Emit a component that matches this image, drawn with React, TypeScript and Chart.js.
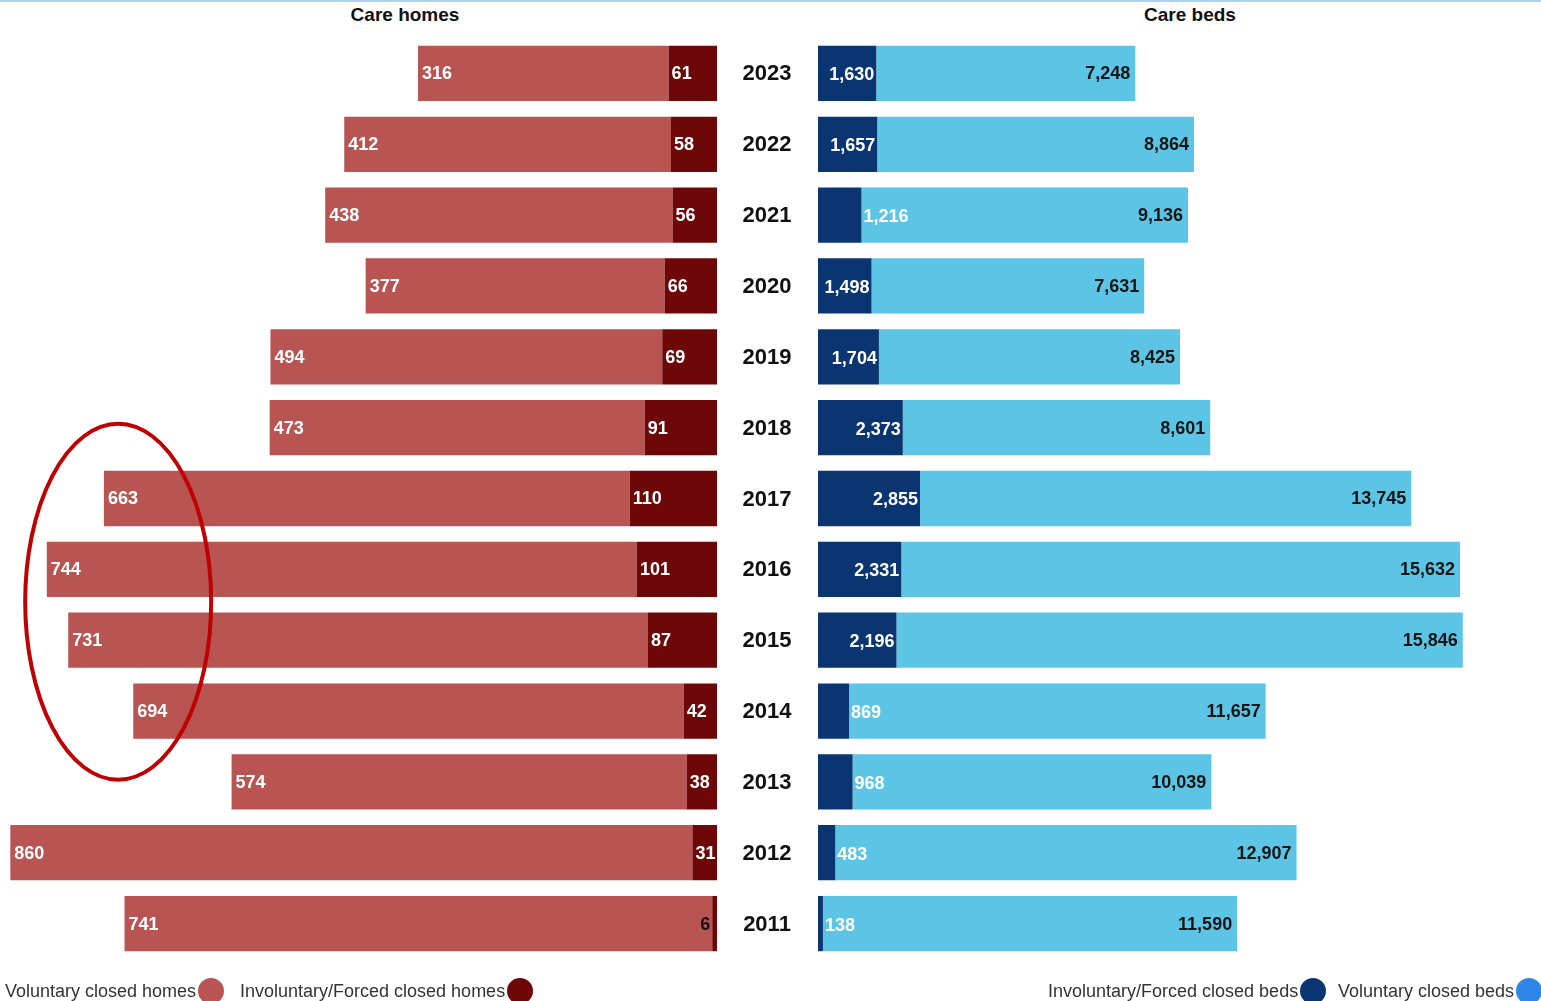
import React, { useEffect, useRef } from "react";
import { Chart, registerables } from "chart.js";

Chart.register(...registerables);

const years = ["2023", "2022", "2021", "2020", "2019", "2018", "2017", "2016", "2015", "2014", "2013", "2012", "2011"];
const volHomes = [316, 412, 438, 377, 494, 473, 663, 744, 731, 694, 574, 860, 741];
const invHomes = [61, 58, 56, 66, 69, 91, 110, 101, 87, 42, 38, 31, 6];
const invBeds = [1630, 1657, 1216, 1498, 1704, 2373, 2855, 2331, 2196, 869, 968, 483, 138];
const volBeds = [7248, 8864, 9136, 7631, 8425, 8601, 13745, 15632, 15846, 11657, 10039, 12907, 11590];

const FONT = "'Liberation Sans', Arial, Helvetica, sans-serif";
const C_VOL_HOME = "#b85553";
const C_INV_HOME = "#6e0808";
const C_INV_BED = "#0a3570";
const C_VOL_BED = "#5cc4e5";
const C_LEG_VOL_BED = "#2f86e6";

const fmt = (n: number) => n.toLocaleString("en-GB");

const leftLabels = {
  id: "leftLabels",
  afterDatasetsDraw(chart: any) {
    const ctx = chart.ctx;
    ctx.save();
    ctx.font = `bold 18px ${FONT}`;
    ctx.textBaseline = "middle";
    const inv = chart.getDatasetMeta(0).data;
    const vol = chart.getDatasetMeta(1).data;
    inv.forEach((el: any, i: number) => {
      const { x, y, base } = el.getProps(["x", "y", "base"], true);
      const left = Math.min(x, base);
      const right = Math.max(x, base);
      const txt = fmt(invHomes[i]);
      const w = ctx.measureText(txt).width;
      if (w + 4 <= right - left) {
        ctx.fillStyle = "#ffffff";
        ctx.textAlign = "left";
        ctx.fillText(txt, left + 3, y + 1);
      } else {
        ctx.fillStyle = "#111111";
        ctx.textAlign = "right";
        ctx.fillText(txt, left - 2, y + 1);
      }
    });
    vol.forEach((el: any, i: number) => {
      const { x, y, base } = el.getProps(["x", "y", "base"], true);
      const left = Math.min(x, base);
      ctx.fillStyle = "#ffffff";
      ctx.textAlign = "left";
      ctx.fillText(fmt(volHomes[i]), left + 4, y + 1);
    });
    // year labels centred in the gap between the two panels
    const ys = chart.scales.y;
    const xs = chart.scales.x;
    ctx.font = `bold 22px ${FONT}`;
    ctx.fillStyle = "#111111";
    ctx.textAlign = "center";
    const cxYear = xs.right + 50;
    years.forEach((yr, i) => {
      ctx.fillText(yr, cxYear, ys.getPixelForValue(i) + 1);
    });
    // annotation ellipse around 2014-2017
    const yTop = ys.getPixelForValue(6);
    const yBot = ys.getPixelForValue(9);
    const cy = (yTop + yBot) / 2 - 3;
    const cx = xs.getPixelForValue(755);
    ctx.beginPath();
    ctx.ellipse(cx, cy, 93, 178, 0, 0, Math.PI * 2);
    ctx.strokeStyle = "#c00000";
    ctx.lineWidth = 4;
    ctx.stroke();
    ctx.restore();
  },
};

const rightLabels = {
  id: "rightLabels",
  afterDatasetsDraw(chart: any) {
    const ctx = chart.ctx;
    ctx.save();
    ctx.font = `bold 18px ${FONT}`;
    ctx.textBaseline = "middle";
    const inv = chart.getDatasetMeta(0).data;
    const vol = chart.getDatasetMeta(1).data;
    inv.forEach((el: any, i: number) => {
      const { x, y, base } = el.getProps(["x", "y", "base"], true);
      const left = Math.min(x, base);
      const right = Math.max(x, base);
      const txt = fmt(invBeds[i]);
      const w = ctx.measureText(txt).width;
      ctx.fillStyle = "#ffffff";
      if (w + 6 <= right - left) {
        ctx.textAlign = "right";
        ctx.fillText(txt, right - 2, y + 2);
      } else {
        ctx.textAlign = "left";
        ctx.fillText(txt, right + 2, y + 2);
      }
    });
    vol.forEach((el: any, i: number) => {
      const { x, y, base } = el.getProps(["x", "y", "base"], true);
      const right = Math.max(x, base);
      ctx.fillStyle = "#151515";
      ctx.textAlign = "right";
      ctx.fillText(fmt(volBeds[i]), right - 5, y + 1);
    });
    ctx.restore();
  },
};

export default function App() {
  const leftRef = useRef<HTMLCanvasElement>(null);
  const rightRef = useRef<HTMLCanvasElement>(null);

  useEffect(() => {
    const padTop = 38;
    const padBottom = 42;
    const left = new Chart(leftRef.current as HTMLCanvasElement, {
      type: "bar",
      data: {
        labels: years,
        datasets: [
          { label: "Involuntary/Forced closed homes", data: invHomes, backgroundColor: C_INV_HOME, borderWidth: 0 },
          { label: "Voluntary closed homes", data: volHomes, backgroundColor: C_VOL_HOME, borderWidth: 0 },
        ],
      },
      options: {
        indexAxis: "y",
        responsive: false,
        animation: false,
        datasets: { bar: { barPercentage: 0.78, categoryPercentage: 1 } },
        layout: { padding: { top: padTop, bottom: padBottom, left: 0, right: 101 } },
        plugins: { legend: { display: false }, tooltip: { enabled: false } },
        scales: {
          x: { stacked: true, reverse: true, min: 0, max: 904, display: false },
          y: { stacked: true, display: false },
        },
      } as any,
      plugins: [leftLabels],
    });

    const right = new Chart(rightRef.current as HTMLCanvasElement, {
      type: "bar",
      data: {
        labels: years,
        datasets: [
          { label: "Involuntary/Forced closed beds", data: invBeds, backgroundColor: C_INV_BED, borderWidth: 0 },
          { label: "Voluntary closed beds", data: volBeds, backgroundColor: C_VOL_BED, borderWidth: 0 },
        ],
      },
      options: {
        indexAxis: "y",
        responsive: false,
        animation: false,
        datasets: { bar: { barPercentage: 0.78, categoryPercentage: 1 } },
        layout: { padding: { top: padTop, bottom: padBottom, left: 0, right: 0 } },
        plugins: { legend: { display: false }, tooltip: { enabled: false } },
        scales: {
          x: { stacked: true, min: 0, max: 20230, display: false },
          y: { stacked: true, display: false },
        },
      } as any,
      plugins: [rightLabels],
    });

    return () => {
      left.destroy();
      right.destroy();
    };
  }, []);

  const legendText: React.CSSProperties = {
    position: "absolute",
    top: 979,
    height: 24,
    display: "flex",
    alignItems: "center",
    fontFamily: FONT,
    fontSize: 18,
    color: "#333333",
    whiteSpace: "nowrap",
  };
  const dot = (c: string): React.CSSProperties => ({
    display: "inline-block",
    width: 26,
    height: 26,
    borderRadius: "50%",
    background: c,
    marginLeft: 2,
  });
  const title: React.CSSProperties = {
    position: "absolute",
    top: 4,
    width: 240,
    textAlign: "center",
    fontFamily: FONT,
    fontWeight: "bold",
    fontSize: 19,
    lineHeight: "22px",
    color: "#111111",
  };

  return (
    <div style={{ position: "fixed", left: 0, top: 0, width: 1541, height: 1001, background: "#ffffff", overflow: "hidden" }}>
      <div style={{ position: "absolute", left: 0, top: 0, width: 1541, height: 2, background: "#a9d3ef" }} />
      <div style={{ ...title, left: 405 - 120 }}>Care homes</div>
      <div style={{ ...title, left: 1190 - 120 }}>Care beds</div>
      <canvas ref={leftRef} width={818} height={1001} style={{ position: "absolute", left: 0, top: 0, width: 818, height: 1001 }} />
      <canvas ref={rightRef} width={723} height={1001} style={{ position: "absolute", left: 818, top: 0, width: 723, height: 1001 }} />
      <div style={{ ...legendText, left: 5 }}>
        <span>Voluntary closed homes</span>
        <span style={dot(C_VOL_HOME)} />
      </div>
      <div style={{ ...legendText, left: 240 }}>
        <span>Involuntary/Forced closed homes</span>
        <span style={dot(C_INV_HOME)} />
      </div>
      <div style={{ ...legendText, left: 1048 }}>
        <span>Involuntary/Forced closed beds</span>
        <span style={dot(C_INV_BED)} />
      </div>
      <div style={{ ...legendText, left: 1338 }}>
        <span>Voluntary closed beds</span>
        <span style={dot(C_LEG_VOL_BED)} />
      </div>
    </div>
  );
}
